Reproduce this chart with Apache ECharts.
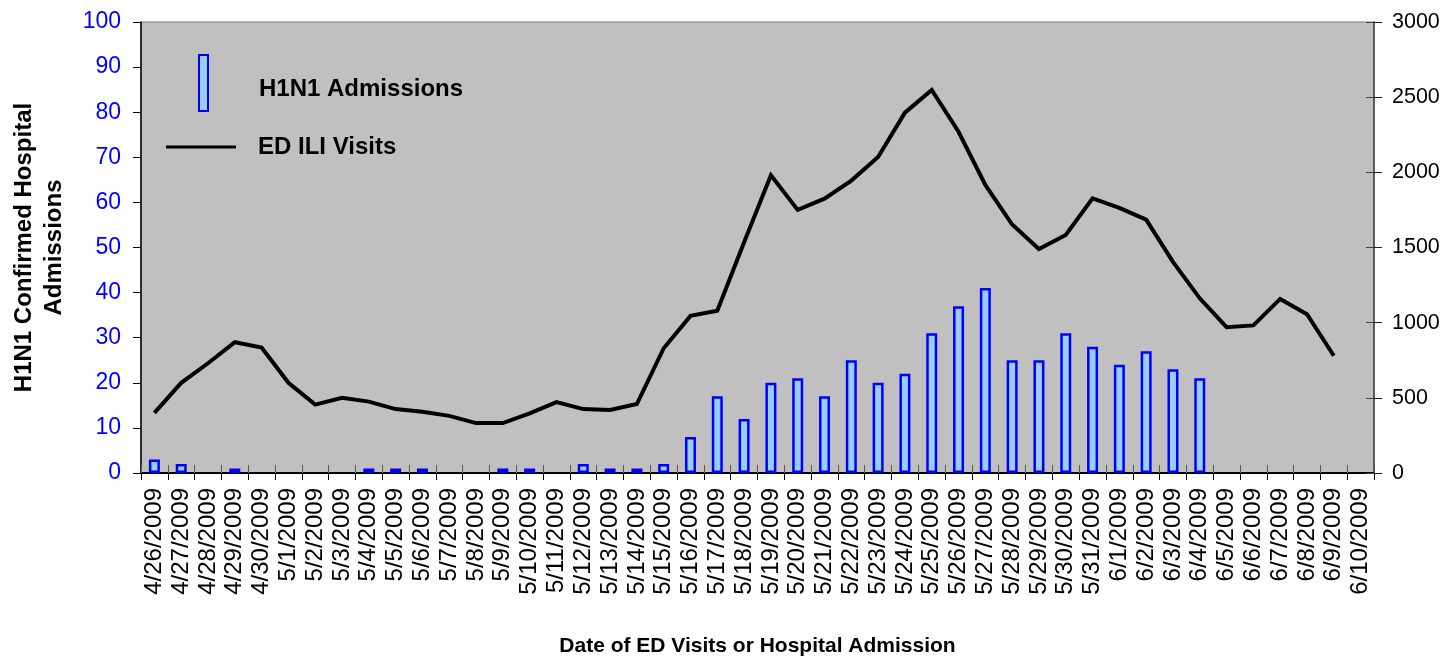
<!DOCTYPE html>
<html>
<head>
<meta charset="utf-8">
<script src="https://cdn.jsdelivr.net/npm/echarts@6/dist/echarts.min.js"></script>
<style>
  html, body { margin: 0; padding: 0; background: #ffffff; }
  #chart { width: 1450px; height: 656px; }
</style>
</head>
<body>
<div id="chart"></div>
<script>
// Dates of ED visits / hospital admissions
const dates = [
  '4/26/2009','4/27/2009','4/28/2009','4/29/2009','4/30/2009',
  '5/1/2009','5/2/2009','5/3/2009','5/4/2009','5/5/2009','5/6/2009','5/7/2009',
  '5/8/2009','5/9/2009','5/10/2009','5/11/2009','5/12/2009','5/13/2009','5/14/2009',
  '5/15/2009','5/16/2009','5/17/2009','5/18/2009','5/19/2009','5/20/2009','5/21/2009',
  '5/22/2009','5/23/2009','5/24/2009','5/25/2009','5/26/2009','5/27/2009','5/28/2009',
  '5/29/2009','5/30/2009','5/31/2009','6/1/2009','6/2/2009','6/3/2009','6/4/2009',
  '6/5/2009','6/6/2009','6/7/2009','6/8/2009','6/9/2009','6/10/2009'
];

// Confirmed H1N1 hospital admissions per day (left axis)
const admissions = [
  3, 2, 0, 1, 0,
  0, 0, 0, 1, 1, 1, 0,
  0, 1, 1, 0, 2, 1, 1,
  2, 8, 17, 12, 20, 21, 17,
  25, 20, 22, 31, 37, 41, 25,
  25, 31, 28, 24, 27, 23, 21,
  0, 0, 0, 0, 0, 0
];

// ED visits for influenza-like illness per day (right axis)
const iliVisits = [
  400, 600, 730, 870, 835,
  600, 455, 500, 475, 425, 408, 380,
  332, 332, 397, 472, 425, 419, 459,
  830, 1045, 1080, 1535, 1980, 1750, 1825,
  1945, 2102, 2397, 2548, 2270, 1916, 1653,
  1490, 1583, 1827, 1763, 1685, 1404, 1162,
  970, 982, 1158, 1056, 780, null
];

// Axis ranges and tick steps
const leftAxisMax = 100, leftAxisStep = 10;
const rightAxisMax = 3000, rightAxisStep = 500;

const sans = "'Liberation Sans', Arial, sans-serif";

const chart = echarts.init(document.getElementById('chart'), null, { renderer: 'canvas' });

chart.setOption({
  animation: false,
  backgroundColor: '#ffffff',
  textStyle: { fontFamily: sans },
  grid: {
    left: 141, right: 76, top: 22, bottom: 183,
    containLabel: false,
    outerBoundsMode: 'none',
    show: true,
    backgroundColor: '#c0c0c0',
    borderColor: '#808080',
    borderWidth: 1
  },
  legend: [
    {
      data: ['H1N1 Admissions'],
      left: 198, top: 54,
      padding: 0,
      itemWidth: 9, itemHeight: 56,
      icon: 'rect',
      formatter: '{t|{name}}',
      textStyle: {
        fontFamily: sans, fontSize: 24, fontWeight: 'bold', color: '#000',
        rich: {
          t: {
            fontFamily: sans, fontSize: 24, fontWeight: 'bold', color: '#000',
            padding: [12, 0, 0, 46]
          }
        }
      }
    },
    {
      data: ['ED ILI Visits'],
      left: 166, top: 135,
      padding: 0,
      itemWidth: 70, itemHeight: 3,
      icon: 'rect',
      itemStyle: { color: '#000', borderWidth: 0 },
      textStyle: {
        fontFamily: sans, fontSize: 24, fontWeight: 'bold', color: '#000',
        padding: [0, 0, 0, 17]
      }
    }
  ],
  xAxis: [
    {
      type: 'category',
      data: dates,
      position: 'bottom',
      boundaryGap: true,
      name: 'Date of ED Visits or Hospital Admission',
      nameLocation: 'middle',
      nameGap: 163,
      nameTextStyle: { fontFamily: sans, fontSize: 21, fontWeight: 'bold', color: '#000' },
      axisLine: { show: true, lineStyle: { color: '#000', width: 2 } },
      axisTick: { show: true, alignWithLabel: false, interval: 0, length: 7, lineStyle: { color: '#000', width: 1 } },
      axisLabel: {
        interval: 0, rotate: 90, margin: 15,
        fontFamily: sans, fontSize: 24, color: '#000'
      },
      splitLine: { show: false }
    },
    {
      // inner half of the crossing category ticks
      type: 'category',
      data: dates,
      position: 'bottom',
      boundaryGap: true,
      axisLine: { show: false },
      axisTick: { show: true, inside: true, interval: 0, length: 8, lineStyle: { color: '#555', width: 1 } },
      axisLabel: { show: false },
      splitLine: { show: false }
    }
  ],
  yAxis: [
    {
      type: 'value',
      position: 'left',
      min: 0, max: leftAxisMax, interval: leftAxisStep,
      name: 'H1N1 Confirmed Hospital\nAdmissions',
      nameLocation: 'middle',
      nameGap: 72,
      nameRotate: 90,
      nameTextStyle: { fontFamily: sans, fontSize: 24, fontWeight: 'bold', color: '#000', lineHeight: 30 },
      axisLine: { show: true, lineStyle: { color: '#000', width: 1.5 } },
      axisTick: { show: true, length: 8, lineStyle: { color: '#000', width: 1 } },
      axisLabel: { margin: 20, fontFamily: sans, fontSize: 23, color: '#0000ff' },
      splitLine: { show: false }
    },
    {
      type: 'value',
      position: 'right',
      min: 0, max: rightAxisMax, interval: rightAxisStep,
      axisLine: { show: true, lineStyle: { color: '#404040', width: 1.5 } },
      axisTick: { show: true, length: 8, lineStyle: { color: '#222', width: 1 } },
      axisLabel: {
        margin: 18, fontFamily: sans, fontSize: 21.5, color: '#000',
        formatter: v => String(v)
      },
      splitLine: { show: false }
    },
    {
      // inner half of the crossing right-axis ticks
      type: 'value',
      position: 'right',
      offset: 0,
      min: 0, max: rightAxisMax, interval: rightAxisStep,
      axisLine: { show: false },
      axisTick: { show: true, inside: true, length: 8, lineStyle: { color: '#404040', width: 1 } },
      axisLabel: { show: false },
      splitLine: { show: false }
    }
  ],
  series: [
    {
      name: 'H1N1 Admissions',
      type: 'bar',
      xAxisIndex: 0,
      yAxisIndex: 0,
      barWidth: 11,
      // days without admissions draw no bar
      data: admissions.map(v => (v === 0 ? null : v)),
      itemStyle: { color: '#99ccff', borderColor: '#0000ff', borderWidth: 2.5 },
      z: 2
    },
    {
      name: 'ED ILI Visits',
      type: 'line',
      xAxisIndex: 0,
      yAxisIndex: 1,
      data: iliVisits,
      showSymbol: false,
      symbol: 'none',
      lineStyle: { color: '#000', width: 4, join: 'miter' },
      itemStyle: { color: '#000' },
      z: 3
    }
  ]
});
</script>
</body>
</html>
